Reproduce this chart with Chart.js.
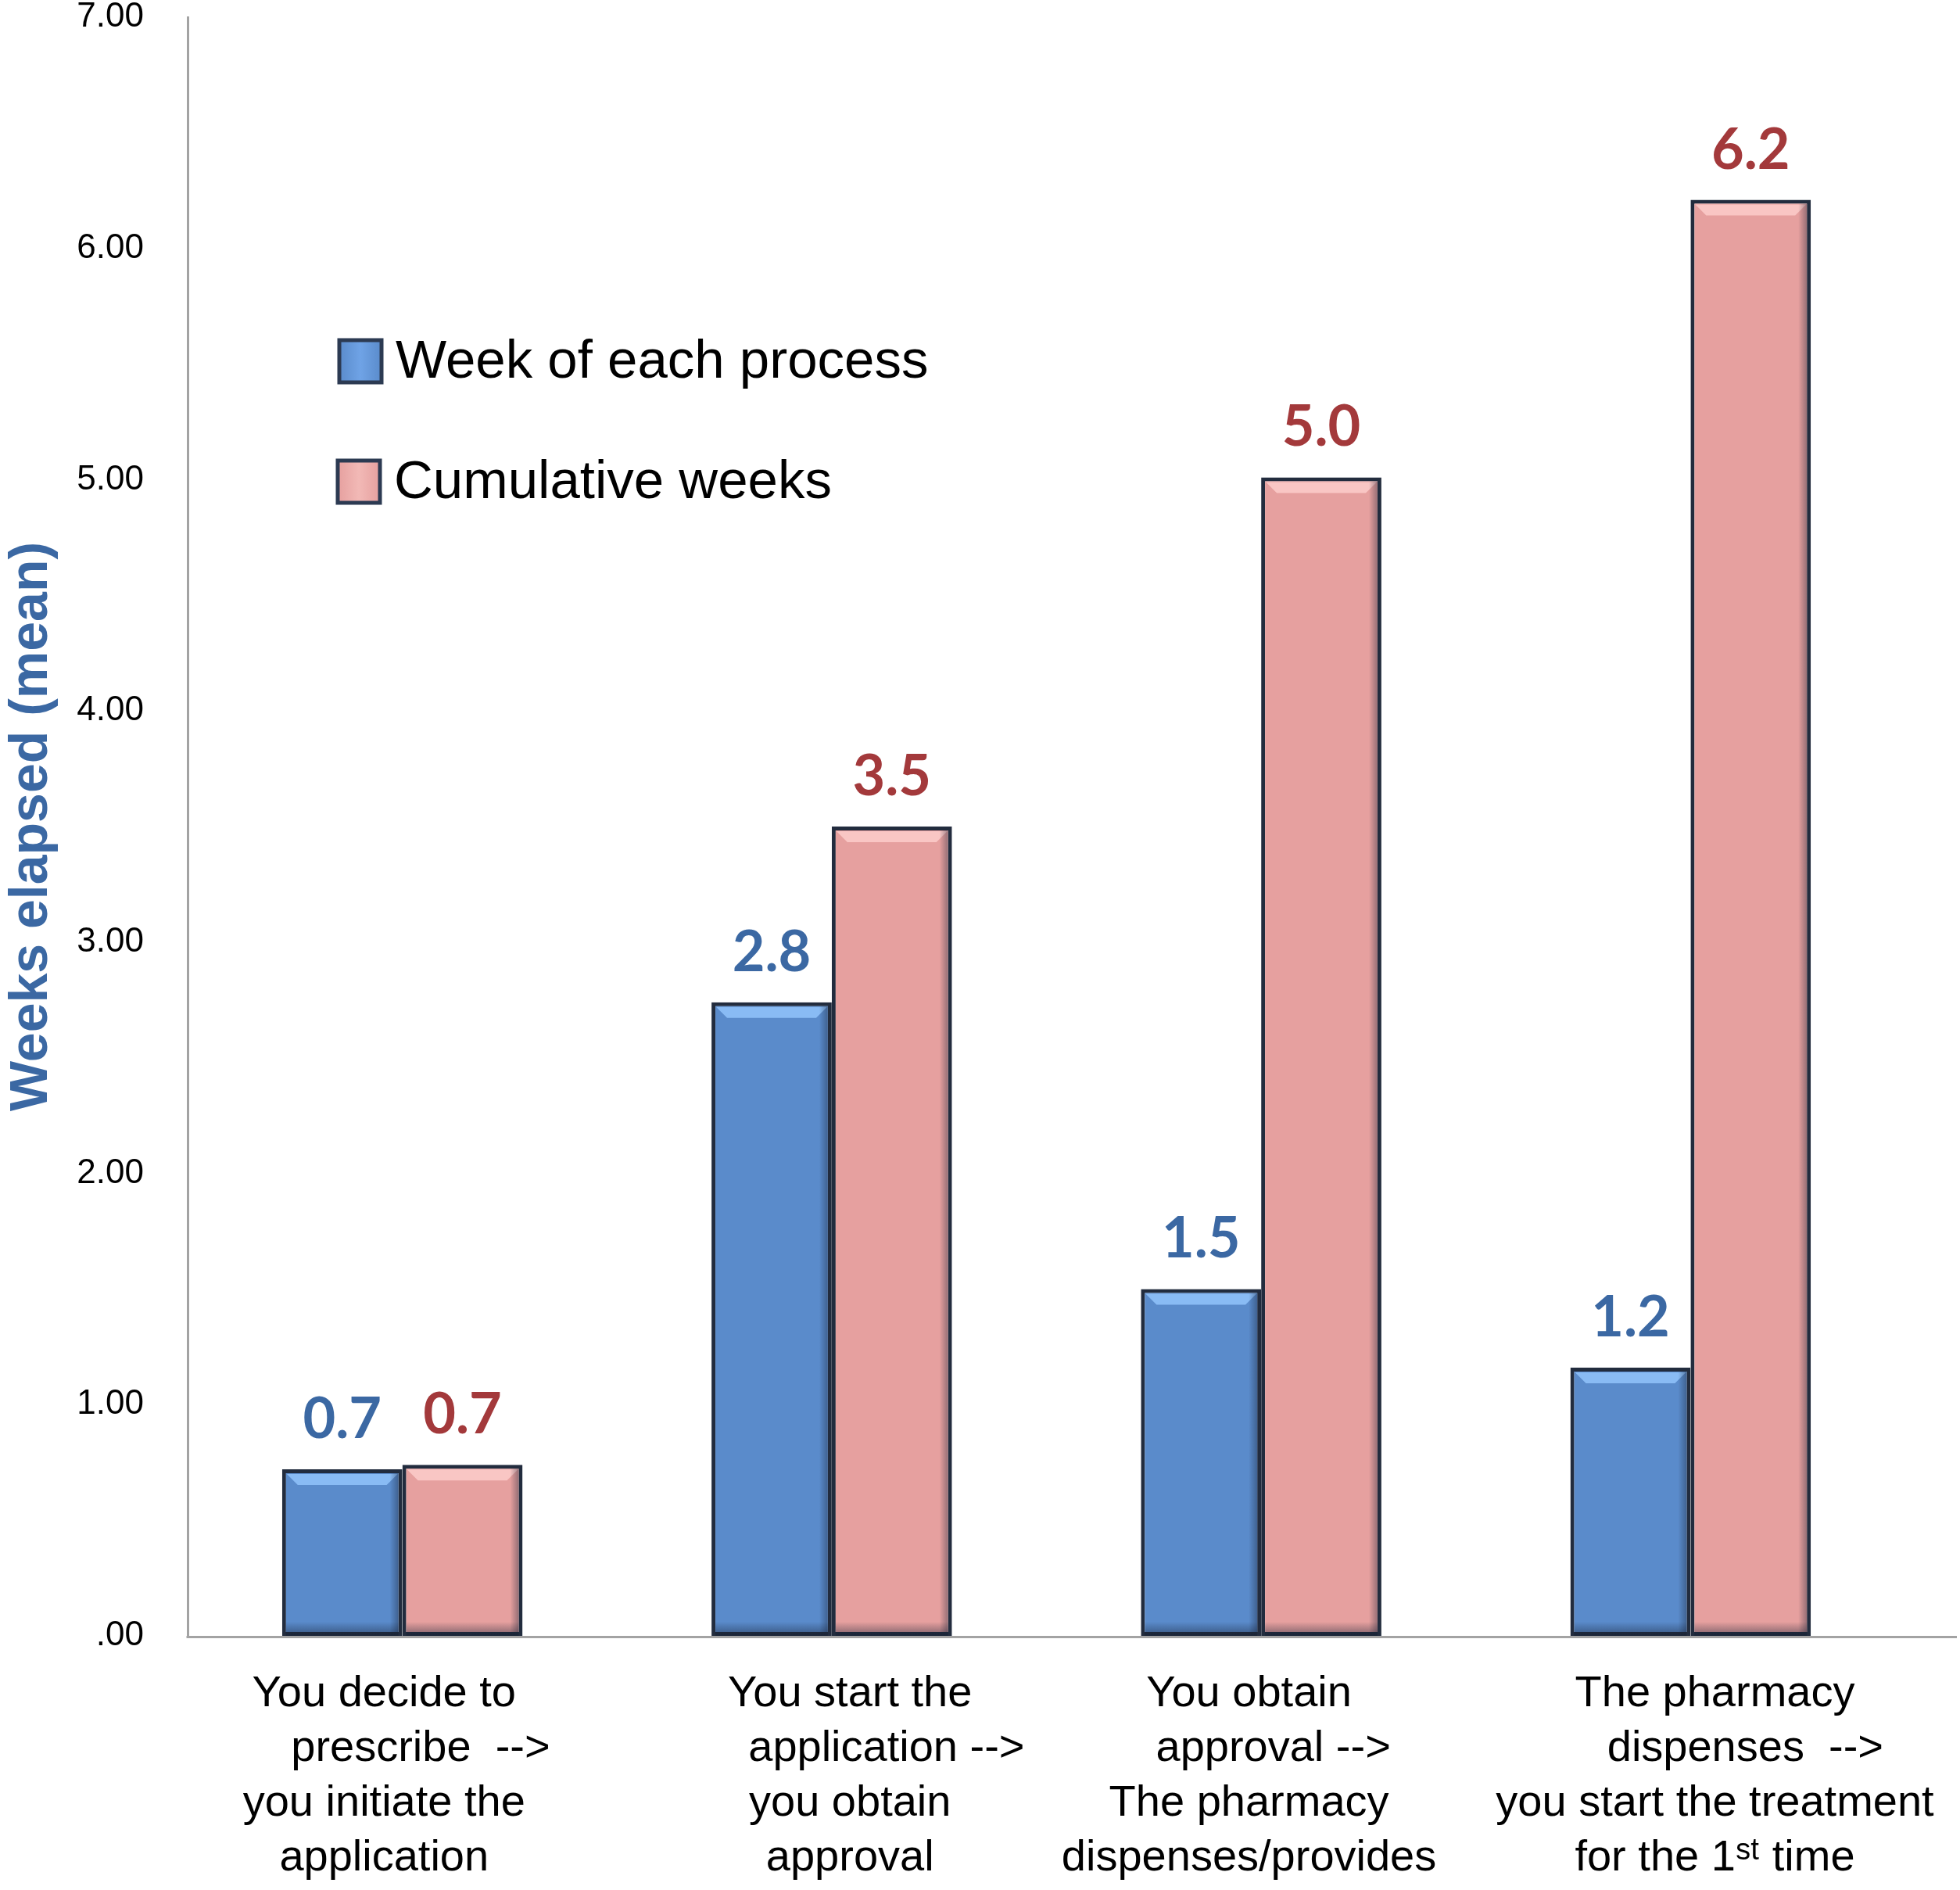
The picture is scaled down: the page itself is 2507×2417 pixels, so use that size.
<!DOCTYPE html>
<html><head><meta charset="utf-8">
<script src="https://cdn.jsdelivr.net/npm/chart.js@4.4.0/dist/chart.umd.min.js"></script>
<style>html,body{margin:0;padding:0;background:#fff}#wrap{width:2507px;height:2417px}</style>
</head><body><div id="wrap"><canvas id="c" width="2507" height="2417"></canvas></div>
<script>
// ---- data ----
const categories = [
  ['You decide to   ', '      prescribe  -->   ', 'you initiate the   ', 'application   '],
  ['   You start the', '         application -->', '   you obtain', '   approval'],
  ['You obtain  ', '    approval -->  ', 'The pharmacy  ', 'dispenses/provides  '],
  ['    The pharmacy', '         dispenses  -->', '    you start the treatment', '    for the 1\u02E2\u1D57 time']
];
const seriesNames = ['Week of each process', 'Cumulative weeks'];
const weekEachProcess = [0.72, 2.74, 1.50, 1.16];
const cumulativeWeeks = [0.74, 3.50, 5.01, 6.21];
const weekLabels = ['0.7', '2.8', '1.5', '1.2'];
const cumulativeLabels = ['0.7', '3.5', '5.0', '6.2'];
const yTickLabels = ['.00', '1.00', '2.00', '3.00', '4.00', '5.00', '6.00', '7.00'];

// ---- styles ----
const BLUE = '#5A8BCB', PINK = '#E6A09F';
const BLUE_TXT = '#3B68A3', RED_TXT = '#A3393B';
const AXIS = '#A3A3A3';
const FONT = "'Liberation Sans', Arial, Helvetica, sans-serif";
const LABEL_FONT = "'Lato', 'Liberation Sans', Arial, sans-serif";

const barDecor = {
  id: 'barDecor',
  afterDatasetsDraw(chart) {
    const ctx = chart.ctx;
    chart.data.datasets.forEach((ds, di) => {
      const meta = chart.getDatasetMeta(di);
      const hi = di === 0 ? 'rgba(140,190,245,0.95)' : 'rgba(250,200,198,0.95)';
      meta.data.forEach(el => {
        const p = el.getProps(['x', 'y', 'base', 'width'], true);
        const l = p.x - p.width / 2, r = p.x + p.width / 2;
        ctx.save();
        ctx.fillStyle = hi;
        ctx.beginPath();
        ctx.moveTo(l + 6, p.y + 6);
        ctx.lineTo(r - 6, p.y + 6);
        ctx.lineTo(r - 20, p.y + 20);
        ctx.lineTo(l + 20, p.y + 20);
        ctx.closePath();
        ctx.fill();
        const g = ctx.createLinearGradient(0, p.base - 18, 0, p.base);
        g.addColorStop(0, 'rgba(20,30,50,0)');
        g.addColorStop(1, 'rgba(20,30,50,0.5)');
        ctx.fillStyle = g;
        ctx.fillRect(l + 5, p.base - 18, p.width - 10, 18);
        const g2 = ctx.createLinearGradient(r - 16, 0, r, 0);
        g2.addColorStop(0, 'rgba(20,30,50,0)');
        g2.addColorStop(1, 'rgba(20,30,50,0.55)');
        ctx.fillStyle = g2;
        ctx.fillRect(r - 16, p.y + 5, 11, p.base - p.y - 10);
        ctx.restore();
      });
    });
  }
};

const valueLabels = {
  id: 'valueLabels',
  afterDatasetsDraw(chart) {
    const ctx = chart.ctx;
    const sets = [weekLabels, cumulativeLabels];
    const cols = [BLUE_TXT, RED_TXT];
    ctx.save();
    ctx.font = 'bold 72px ' + LABEL_FONT;
    ctx.textAlign = 'center';
    ctx.textBaseline = 'alphabetic';
    chart.data.datasets.forEach((ds, di) => {
      const meta = chart.getDatasetMeta(di);
      ctx.fillStyle = cols[di];
      meta.data.forEach((el, i) => {
        const p = el.getProps(['x', 'y'], true);
        ctx.fillText(sets[di][i], p.x, p.y - 40);
      });
    });
    ctx.restore();
  }
};

const innerLegend = {
  id: 'innerLegend',
  afterDraw(chart, args, opts) {
    const ctx = chart.ctx;
    ctx.save();
    ctx.font = opts.fontSize + 'px ' + FONT;
    ctx.textBaseline = 'middle';
    ctx.textAlign = 'left';
    opts.items.forEach((it, i) => {
      const ds = chart.data.datasets[i];
      const s = opts.box;
      const g = ctx.createLinearGradient(it.x, 0, it.x + s, 0);
      g.addColorStop(0, ds.backgroundColor);
      g.addColorStop(0.5, i === 0 ? '#6FA3E6' : '#F2B9B6');
      g.addColorStop(1, ds.backgroundColor);
      ctx.fillStyle = g;
      ctx.fillRect(it.x, it.y - s / 2, s, s);
      ctx.lineWidth = 5;
      ctx.strokeStyle = '#2C3A52';
      ctx.strokeRect(it.x, it.y - s / 2, s, s);
      ctx.fillStyle = '#000';
      ctx.fillText(ds.label, it.x + s + 18, it.y + 2);
    });
    ctx.restore();
  }
};

// x baseline drawn across the full width (it runs past the last category in the reference)
const baseline = {
  id: 'baseline',
  afterDraw(chart) {
    const ctx = chart.ctx;
    const y0 = Math.round(chart.scales.y.getPixelForValue(0)) + 1.5;
    ctx.save();
    ctx.strokeStyle = AXIS;
    ctx.lineWidth = 3;
    ctx.beginPath();
    ctx.moveTo(chart.chartArea.left - 1.5, y0);
    ctx.lineTo(chart.width - 4, y0);
    ctx.stroke();
    ctx.restore();
  }
};

new Chart(document.getElementById('c'), {
  type: 'bar',
  data: {
    labels: categories,
    datasets: [
      { label: seriesNames[0], data: weekEachProcess, backgroundColor: BLUE,
        borderColor: '#222C3E', borderWidth: 5, borderSkipped: false },
      { label: seriesNames[1], data: cumulativeWeeks, backgroundColor: PINK,
        borderColor: '#222C3E', borderWidth: 5, borderSkipped: false }
    ]
  },
  options: {
    responsive: false,
    animation: false,
    devicePixelRatio: 1,
    categoryPercentage: 0.56,
    barPercentage: 1.0,
    layout: { padding: { top: 22, right: 70, left: 0, bottom: 0 } },
    plugins: {
      legend: { display: false },
      tooltip: { enabled: false },
      innerLegend: {
        box: 54, fontSize: 69,
        items: [ { x: 434, y: 462 }, { x: 432, y: 616 } ]
      }
    },
    scales: {
      x: {
        grid: { display: false, drawTicks: false },
        border: { display: false },
        ticks: { color: '#000', font: { family: FONT, size: 56, lineHeight: 1.25 },
                 padding: 40, maxRotation: 0, autoSkip: false },
        afterFit: s => { s.height = 325; s.paddingLeft = 0; s.paddingRight = 0; }
      },
      y: {
        min: 0, max: 7,
        grid: { display: false, drawTicks: false },
        border: { display: true, color: AXIS, width: 3 },
        ticks: { stepSize: 1, color: '#000', font: { family: FONT, size: 44 }, padding: 56,
                 callback: v => yTickLabels[v] },
        title: { display: true, text: 'Weeks elapsed (mean)', color: BLUE_TXT,
                 font: { family: FONT, size: 68, weight: 'bold' }, padding: 0 },
        afterFit: s => { s.width = 240; s.paddingTop = 0; s.paddingBottom = 0; }
      }
    }
  },
  plugins: [barDecor, valueLabels, innerLegend, baseline]
});
</script>
</body></html>
